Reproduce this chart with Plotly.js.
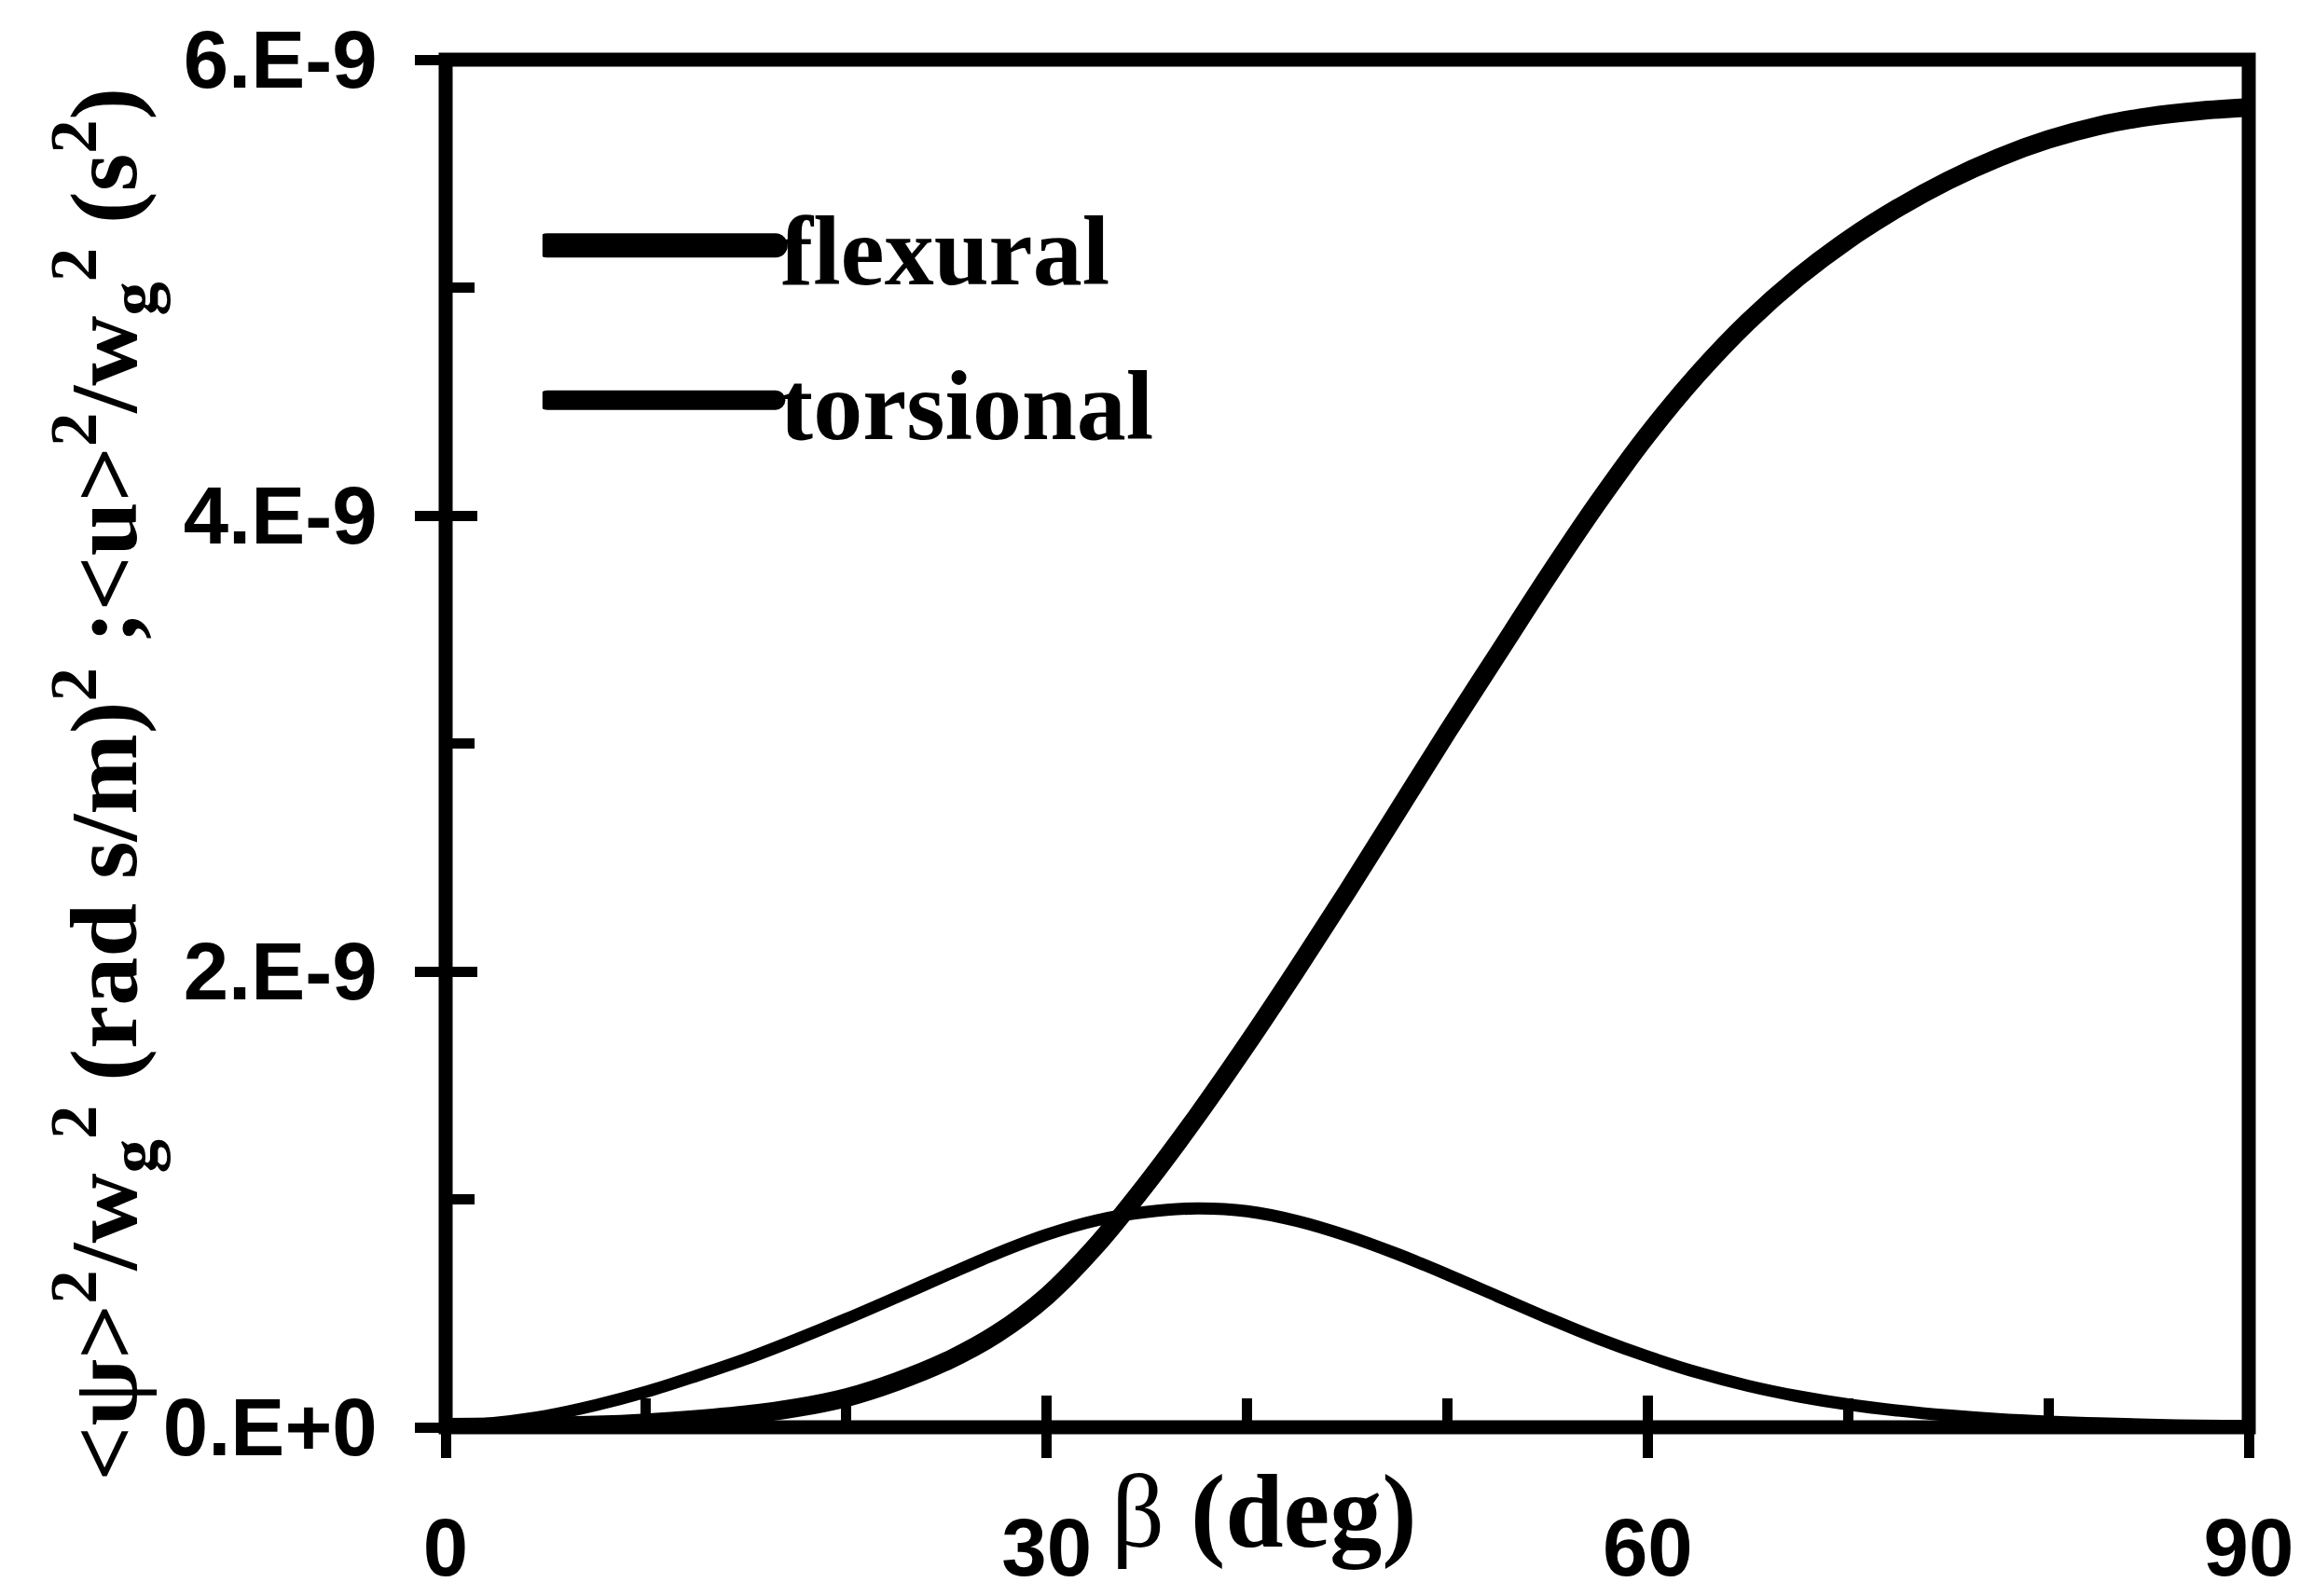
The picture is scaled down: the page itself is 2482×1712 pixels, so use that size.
<!DOCTYPE html>
<html>
<head>
<meta charset="utf-8">
<script src="https://cdn.plot.ly/plotly-3.0.1.min.js"></script>
<style>html,body{margin:0;padding:0;background:#fff;}</style>
</head>
<body>
<div id="chart" style="width:2482px;height:1712px;"></div>
<script>
// ---- data (values in units of 1e-9) ----
const UNIT = 1e-9;
const beta = [0, 2.5, 5, 7.5, 10, 12.5, 15, 17.5, 20, 22.5, 25, 27.5, 30, 32.5, 35, 37.5, 40, 42.5, 45, 47.5, 50,
              52.5, 55, 57.5, 60, 62.5, 65, 67.5, 70, 72.5, 75, 77.5, 80, 82.5, 85, 87.5, 90];
const flexural  = [0, 0.002, 0.005, 0.01, 0.02, 0.035, 0.055, 0.085, 0.13, 0.20, 0.29, 0.41, 0.575, 0.80, 1.07, 1.365, 1.68, 2.01, 2.35, 2.70, 3.05,
                   3.39, 3.73, 4.055, 4.355, 4.62, 4.85, 5.045, 5.21, 5.35, 5.47, 5.57, 5.65, 5.71, 5.75, 5.775, 5.79];
const torsional = [0, 0.02, 0.05, 0.097, 0.155, 0.225, 0.30, 0.385, 0.475, 0.57, 0.667, 0.762, 0.845, 0.908, 0.945, 0.96, 0.948, 0.905, 0.84, 0.76, 0.67,
                   0.575, 0.48, 0.39, 0.31, 0.24, 0.182, 0.136, 0.10, 0.073, 0.052, 0.036, 0.025, 0.017, 0.011, 0.007, 0.005];

const seriesNames = ['flexural', 'torsional'];
const xTickVals = [0, 30, 60, 90];
const xTickText = ['0', '30', '60', '90'];
const xMinorVals = [10, 20, 40, 50, 70, 80];
const yTickVals = [0, 2, 4, 6];
const yTickText = ['0.E+0', '2.E-9', '4.E-9', '6.E-9'];
const yMinorVals = [1, 3, 5];
const xTitle = 'β <b>(deg)</b>';
const yTitle = '&lt;ψ&gt;<sup>2</sup>/w<sub>g</sub><sup>2</sup> (rad s/m)<sup>2</sup> ;&lt;u&gt;<sup>2</sup>/w<sub>g</sub><sup>2</sup> (s<sup>2</sup>)';

const scale = a => a.map(v => v * UNIT);

const lineWidths = [20, 13];
const legendLineWidths = [26, 21];

const traces = [
  {x: beta, y: scale(flexural), name: seriesNames[0], type: 'scatter', mode: 'lines',
   line: {color: '#000', width: lineWidths[0], shape: 'spline', smoothing: 1, simplify: false}, legendgroup: 'a',
   xaxis: 'x', yaxis: 'y'},
  {x: beta, y: scale(torsional), name: seriesNames[1], type: 'scatter', mode: 'lines',
   line: {color: '#000', width: lineWidths[1], shape: 'spline', smoothing: 1, simplify: false}, legendgroup: 'b',
   xaxis: 'x2', yaxis: 'y2'}
];

const sansBold = {family: 'Liberation Sans, Arial, sans-serif', size: 87, color: '#000', weight: 'bold'};
const serif = 'Liberation Serif, Times New Roman, serif';

const layout = {
  width: 2482, height: 1712,
  margin: {l: 478, r: 70, t: 64, b: 181},
  paper_bgcolor: '#fff', plot_bgcolor: '#fff',
  showlegend: true,
  legend: {x: 0.0537, y: 0.9155, xanchor: 'left', yanchor: 'top',
           font: {family: serif, size: 106, color: '#000', weight: 'bold'},
           traceorder: 'grouped', tracegroupgap: 25, itemwidth: 245,
           bgcolor: 'rgba(0,0,0,0)', borderwidth: 0},
  xaxis: {range: [0, 90], tickmode: 'array', tickvals: xTickVals, ticktext: xTickText,
          ticks: 'outside', ticklen: 32, tickwidth: 11, tickcolor: '#000',
          showgrid: false, zeroline: false, showline: false, tickfont: sansBold,
          ticklabelstandoff: 22,
          minor: {tickmode: 'array', tickvals: xMinorVals, ticks: 'inside', ticklen: 31, tickwidth: 11, tickcolor: '#000', showgrid: false}},
  yaxis: {range: [0, 6 * UNIT], tickmode: 'array', tickvals: scale(yTickVals), ticktext: yTickText,
          ticks: 'outside', ticklen: 32, tickwidth: 11, tickcolor: '#000',
          showgrid: false, zeroline: false, showline: false, tickfont: sansBold,
          ticklabelstandoff: 23,
          minor: {tickmode: 'array', tickvals: scale(yMinorVals), ticks: 'inside', ticklen: 31, tickwidth: 11, tickcolor: '#000', showgrid: false}},
  xaxis2: {overlaying: 'x', anchor: 'y2', range: [0, 90], tickmode: 'array', tickvals: xTickVals,
           ticks: 'inside', ticklen: 34, tickwidth: 11, tickcolor: '#000', showticklabels: false,
           showgrid: false, zeroline: false, showline: false},
  yaxis2: {overlaying: 'y', anchor: 'x2', side: 'left', range: [0, 6 * UNIT], tickmode: 'array', tickvals: scale(yTickVals),
           ticks: 'inside', ticklen: 34, tickwidth: 11, tickcolor: '#000', showticklabels: false,
           showgrid: false, zeroline: false, showline: false},
  shapes: [{type: 'rect', xref: 'paper', yref: 'paper', x0: 0, x1: 1, y0: 0, y1: 1,
            line: {color: '#000', width: 15}, layer: 'above'}],
  annotations: [
    {text: yTitle, xref: 'paper', yref: 'paper', x: -0.19, y: 0.4703, xanchor: 'center', yanchor: 'middle',
     textangle: -90, showarrow: false, font: {family: serif, size: 102, color: '#000', weight: 'bold'}},
    {text: xTitle, xref: 'paper', yref: 'paper', x: 0.454, y: -0.062, xanchor: 'center', yanchor: 'middle',
     showarrow: false, font: {family: serif, size: 112, color: '#000'}}
  ]
};

Plotly.newPlot('chart', traces, layout, {displayModeBar: false, staticPlot: true}).then(gd => {
  // squeeze the long rotated y title along its length, like the original
  gd.querySelectorAll('.annotation-text').forEach(t => {
    if (t.textContent.indexOf('ψ') >= 0) {
      t.setAttribute('textLength', '1495');
      t.setAttribute('lengthAdjust', 'spacingAndGlyphs');
    }
  });
  // legend sample lines as heavy as in the original
  gd.querySelectorAll('.legend .traces').forEach((g, i) => {
    g.querySelectorAll('.legendlines path').forEach(p => {
      p.style.strokeWidth = legendLineWidths[i] + 'px';
      p.style.strokeLinecap = 'round';
    });
  });
});
</script>
</body>
</html>
